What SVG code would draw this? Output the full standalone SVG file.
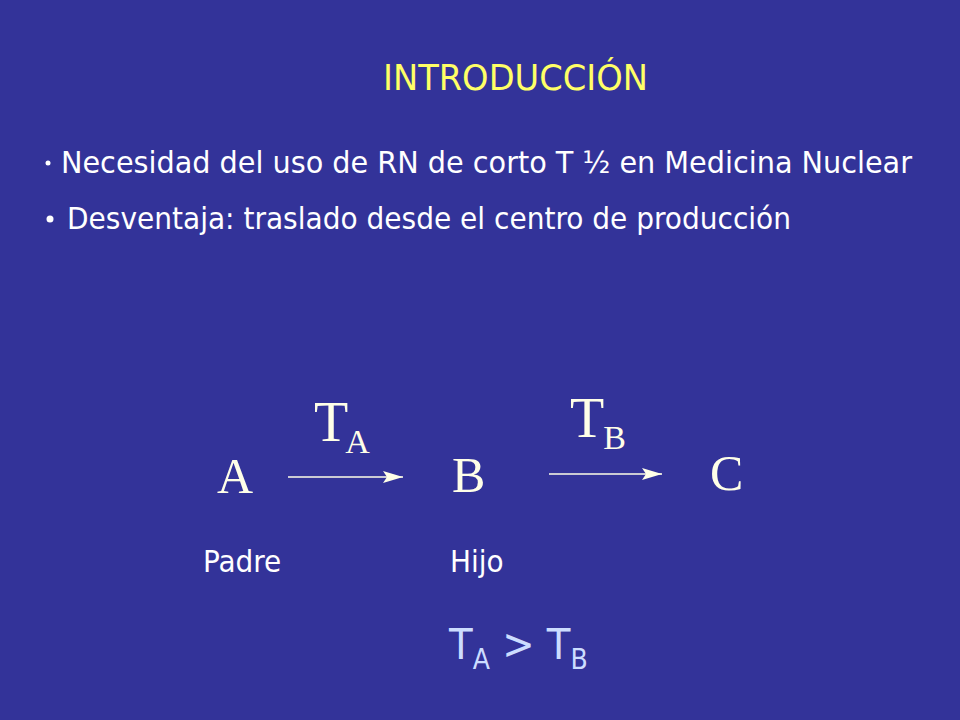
<svg xmlns="http://www.w3.org/2000/svg" width="960" height="720" viewBox="0 0 960 720">
<defs>
<style>
.sans{font-family:"DejaVu Sans Condensed","DejaVu Sans","Liberation Sans",sans-serif;font-stretch:condensed;}
.serif{font-family:"Liberation Serif","Times New Roman",serif;fill:#FFFFE8;}
.w{fill:#FFFFFF;}
.conn{stroke:#FFFFE8;stroke-width:1.5;fill:none;}
</style>
<marker id="ah" viewBox="0 0 20 12" refX="20" refY="6" markerWidth="20" markerHeight="12" markerUnits="userSpaceOnUse" orient="auto">
<path d="M0,0 L20,6 L0,12 L4,6 Z" fill="#FFFFE8"/>
</marker>
</defs>
<rect x="0" y="0" width="960" height="720" fill="#333399"/>
<g id="title"><text class="sans" x="383" y="90" font-size="36" fill="#FFFF66" textLength="265" lengthAdjust="spacingAndGlyphs">INTRODUCCIÓN</text></g>
<g id="bullets">
<circle cx="48" cy="163" r="2.5" fill="#FFFFFF"/>
<text class="sans w" x="61" y="173" font-size="30" textLength="851" lengthAdjust="spacingAndGlyphs">Necesidad del uso de RN de corto T ½  en Medicina Nuclear</text>
<circle cx="50" cy="219" r="3.5" fill="#FFFFFF"/>
<text class="sans w" x="67" y="229" font-size="30" textLength="724" lengthAdjust="spacingAndGlyphs">Desventaja: traslado desde el centro de producción</text>
</g>
<g id="nodeA"><text class="serif" x="217" y="493" font-size="50">A</text></g>
<g id="nodeB"><text class="serif" x="452" y="492" font-size="50">B</text></g>
<g id="nodeC"><text class="serif" x="710" y="490" font-size="50">C</text></g>
<g id="connectors">
<line class="conn" x1="288" y1="477" x2="403" y2="477" marker-end="url(#ah)"/>
<line class="conn" x1="549" y1="474" x2="662" y2="474" marker-end="url(#ah)"/>
</g>
<g id="labelTA"><text class="serif" x="314" y="441" font-size="56">T<tspan font-size="34" dy="12" dx="-3">A</tspan></text></g>
<g id="labelTB"><text class="serif" x="570" y="437" font-size="56">T<tspan font-size="34" dy="12" dx="-1">B</tspan></text></g>
<g id="padre"><text class="sans w" x="203" y="572" font-size="31">Padre</text></g>
<g id="hijo"><text class="sans w" x="450" y="572" font-size="31">Hijo</text></g>
<g id="relation"><text class="sans" x="449" y="659" font-size="43" fill="#CCDDFF">T<tspan font-size="28" dy="10">A</tspan><tspan dy="-10"> &gt; T</tspan><tspan font-size="28" dy="10">B</tspan></text></g>
</svg>
